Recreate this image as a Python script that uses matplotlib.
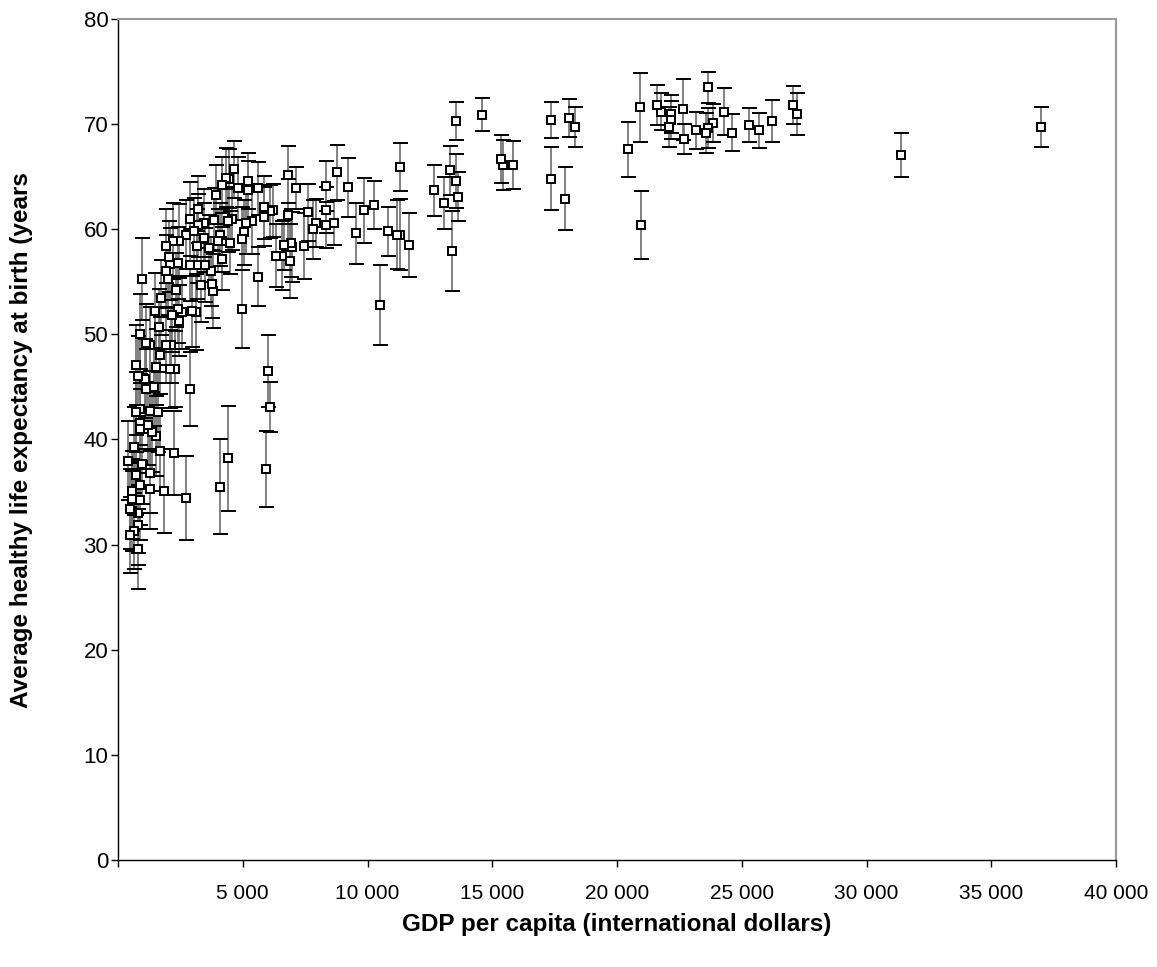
import matplotlib
matplotlib.use("Agg")
import matplotlib.pyplot as plt
from matplotlib.ticker import FuncFormatter

plt.rcParams["font.family"] = ["Liberation Sans", "DejaVu Sans"]

# GDP per capita (international dollars), HALE at birth (years), error half-width
gdp = [
    37000, 31400, 27200, 27050, 26200, 25700, 25300, 24600, 24270, 23850,
    23630, 23550, 23630, 23150, 22670, 22650, 22170, 22170, 22090, 21770,
    21610, 20910, 20970, 20430, 18330, 18090, 17930, 17370, 17370, 15850,
    15450, 15370, 14590, 13530, 13610, 13530, 13310, 13390, 13050, 12650,
    11680, 11290, 11310, 11200, 10830, 10490, 10250, 9870, 9550, 9230,
    8770, 8650, 8330, 8330, 8330, 7930, 7810, 7610, 7450, 7130,
    6970, 6920, 6890, 6810, 6810, 6650, 6570, 6330, 6200, 6100,
    6030, 6090, 5930, 5870, 5870, 5610, 5610, 5370, 5230, 5210,
    5130, 5050, 4970, 4970, 4810, 4650, 4570, 4490, 4440, 4410,
    4410, 4320, 4170, 4170, 4170, 4090, 4100, 4010, 3930, 3850,
    3790, 3770, 3710, 3630, 3470, 3450, 3440, 3310, 3210, 3200,
    3160, 3150, 3130, 3050, 2960, 2890, 2890, 2890, 2730, 2730,
    2570, 2440, 2430, 2410, 2400, 2330, 2270, 2250, 2200, 2160,
    2130, 2090, 2090, 2030, 2010, 1930, 1930, 1930, 1850, 1710,
    1690, 1690, 1630, 1610, 1530, 1530, 1470, 1450, 1370, 1290,
    1290, 1290, 1290, 1190, 1130, 1130, 1070, 970, 970, 890,
    890, 890, 890, 890, 890, 810, 810, 810, 800, 730,
    730, 730, 650, 650, 570, 570, 570, 490, 490, 410,
]
hale = [
    69.7, 67.1, 71.0, 71.8, 70.3, 69.4, 69.9, 69.2, 71.2, 70.1,
    69.6, 69.2, 73.5, 69.4, 68.6, 71.4, 71.0, 70.4, 69.7, 71.2,
    71.8, 71.6, 60.4, 67.6, 69.7, 70.6, 62.9, 70.4, 64.8, 66.1,
    66.1, 66.7, 70.9, 70.3, 63.1, 64.6, 65.6, 57.9, 62.5, 63.7,
    58.5, 65.9, 59.5, 59.5, 59.8, 52.8, 62.3, 61.8, 59.6, 64.0,
    65.4, 60.6, 64.1, 61.8, 60.4, 60.6, 60.0, 61.6, 58.4, 63.9,
    58.3, 58.7, 57.0, 65.2, 61.4, 58.5, 57.5, 57.5, 61.8, 61.7,
    46.5, 43.1, 37.2, 62.1, 61.2, 63.9, 55.5, 60.8, 63.7, 64.6,
    60.6, 59.7, 59.1, 52.4, 63.9, 65.7, 61.0, 58.7, 64.8, 60.8,
    38.2, 64.9, 64.2, 58.9, 57.2, 59.5, 35.5, 58.9, 63.3, 60.9,
    54.1, 54.8, 56.0, 58.2, 56.6, 60.6, 59.2, 54.7, 61.9, 60.4,
    56.6, 58.4, 52.1, 59.8, 52.2, 61.0, 56.6, 44.8, 59.5, 34.4,
    52.1, 58.9, 51.3, 56.8, 52.4, 54.2, 46.7, 38.7, 58.9, 51.8,
    49.0, 56.7, 46.7, 57.4, 55.3, 58.4, 56.0, 49.0, 35.1, 53.5,
    48.0, 38.9, 50.7, 42.6, 46.9, 40.3, 52.2, 45.0, 40.7, 49.0,
    42.7, 36.8, 35.3, 41.4, 49.2, 44.8, 45.8, 55.3, 37.7, 50.0,
    42.9, 41.6, 41.0, 35.7, 34.2, 33.0, 31.9, 29.6, 46.0, 47.1,
    42.6, 36.6, 39.3, 31.3, 35.1, 34.3, 33.2, 33.4, 30.9, 38.0,
]
err = [
    1.9, 2.1, 2.0, 1.8, 2.0, 1.7, 1.6, 1.8, 2.2, 1.8,
    1.9, 1.9, 1.5, 1.8, 1.4, 2.9, 1.8, 1.8, 1.9, 1.8,
    1.9, 3.3, 3.2, 2.6, 1.9, 1.8, 3.0, 1.7, 3.0, 2.3,
    2.4, 2.3, 1.6, 1.8, 2.3, 2.6, 2.3, 3.8, 2.5, 2.4,
    3.0, 2.3, 3.4, 3.3, 2.3, 3.8, 2.3, 3.1, 2.9, 2.8,
    2.6, 2.1, 2.4, 2.2, 2.2, 2.3, 2.8, 2.7, 3.1, 2.0,
    3.3, 3.2, 3.5, 2.7, 3.4, 2.4, 3.3, 3.0, 2.5, 2.5,
    3.4, 2.4, 3.6, 3.0, 2.8, 2.5, 2.8, 3.2, 2.8, 2.7,
    3.0, 3.1, 3.0, 3.7, 3.0, 2.7, 3.0, 3.0, 2.8, 3.0,
    5.0, 2.8, 2.7, 3.0, 3.0, 3.0, 4.5, 3.0, 2.8, 3.0,
    3.5, 3.2, 3.3, 3.2, 3.5, 3.2, 3.3, 3.5, 3.2, 3.0,
    3.2, 3.5, 3.6, 3.2, 3.4, 3.5, 3.4, 3.5, 3.3, 4.0,
    3.5, 3.5, 3.4, 3.4, 3.2, 3.5, 3.6, 4.0, 3.6, 3.5,
    3.6, 3.4, 3.7, 3.4, 3.5, 3.5, 3.5, 3.6, 4.0, 3.6,
    3.7, 3.8, 3.6, 3.8, 3.6, 3.8, 3.6, 3.7, 3.8, 3.6,
    3.8, 3.8, 3.8, 3.8, 3.7, 3.8, 3.8, 3.9, 3.8, 3.8,
    3.8, 3.8, 3.8, 3.8, 3.8, 3.8, 3.8, 3.8, 3.8, 3.8,
    3.8, 3.8, 3.8, 3.6, 3.8, 3.8, 3.8, 3.8, 3.6, 3.8,
]

x_ticks = [0, 5000, 10000, 15000, 20000, 25000, 30000, 35000, 40000]
y_ticks = [0, 10, 20, 30, 40, 50, 60, 70, 80]

fig = plt.figure(figsize=(11.57, 9.67), dpi=100)
ax = fig.add_axes([118 / 1157, 1 - 860 / 967, 998 / 1157, 841 / 967])

bars = ax.errorbar(
    gdp, hale, yerr=err,
    fmt="s", ms=6.3, mfc="white", mec="black", mew=1.4,
    ecolor="#777777", elinewidth=1.3, capsize=5.4, capthick=1.0,
    zorder=3,
)
# caps are drawn black, the vertical bars grey
for cap in bars[1]:
    cap.set_markeredgecolor("black")
    cap.set_color("black")

ax.set_xlim(0, 40000)
ax.set_ylim(0, 80)
ax.set_xticks(x_ticks)
ax.set_yticks(y_ticks)
ax.xaxis.set_major_formatter(
    FuncFormatter(lambda v, p: "" if v == 0 else f"{int(v):,}".replace(",", " "))
)

ax.tick_params(axis="x", direction="out", length=5, width=1, labelsize=15, pad=12)
ax.tick_params(axis="y", direction="out", length=5, width=1, labelsize=16, pad=2)

for side in ["left", "bottom"]:
    ax.spines[side].set_color("black")
    ax.spines[side].set_linewidth(1.0)
for side in ["top", "right"]:
    ax.spines[side].set_color("#999999")
    ax.spines[side].set_linewidth(1.5)

fig.text(617 / 1157, 1 - 925 / 967, "GDP per capita (international dollars)",
         ha="center", va="center", fontsize=17.5, fontweight="bold")
fig.text(22 / 1157, 1 - 708 / 967, "Average healthy life expectancy at birth (years",
         ha="center", va="bottom", rotation=90, fontsize=17.5, fontweight="bold")

fig.savefig("out.png", dpi=100)
